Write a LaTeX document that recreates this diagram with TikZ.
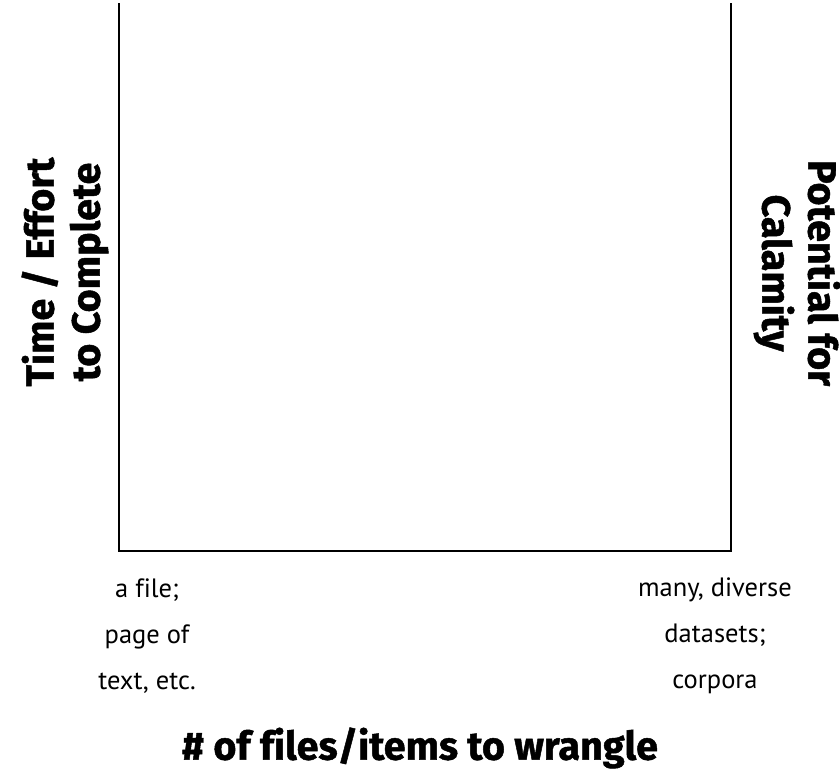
\documentclass[tikz,border=0pt]{standalone}
\usepackage{fontspec}
\setmainfont[Ligatures=NoCommon]{PT Sans}
\newfontfamily\ttlfont[Ligatures=NoCommon,BoldFeatures={FakeBold=1.2}]{Fira Sans}
\begin{document}
\begin{tikzpicture}[x=1pt,y=1pt,
  axis/.style={line width=2.2pt,line cap=rect},
  lbl/.style={font=\fontsize{26.5}{46}\selectfont,align=center},
  ttl/.style={font=\ttlfont\bfseries\fontsize{39.5}{46}\selectfont}]
\useasboundingbox (0,0) rectangle (840,771);
\coordinate (tl) at (119,767);
\coordinate (bl) at (119,220);
\coordinate (br) at (731,220);
\coordinate (tr) at (731,767);
\draw[axis] (tl) -- (bl) -- (br) -- (tr);
\node[ttl,rotate=90,align=center] (ylab) at (65,499) {Time / Effort\\to Complete};
\node[ttl,rotate=-90,align=center] (rlab) at (797,498) {Potential for\\Calamity};
\node[lbl] (lx) at (147,135) {a file;\\page of\\text, etc.};
\node[lbl] (rx) at (715,135) {many, diverse\\datasets;\\corpora};
\node[ttl] (xlab) at (420,23) {\# of files/items to wrangle};
\end{tikzpicture}
\end{document}
